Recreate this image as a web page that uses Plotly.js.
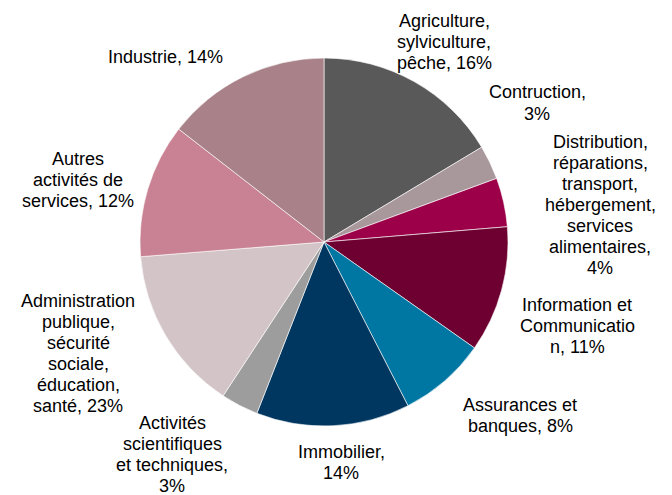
<!DOCTYPE html>
<html>
<head>
<meta charset="utf-8">
<script src="https://cdn.plot.ly/plotly-3.0.1.min.js"></script>
<style>html,body{margin:0;padding:0;background:#fff;}#chart{width:672px;height:495px;}</style>
</head>
<body>
<div id="chart"></div>
<script>
// Data
var categories = [
  "Agriculture, sylviculture, pêche",
  "Contruction",
  "Distribution, réparations, transport, hébergement, services alimentaires",
  "Information et Communication",
  "Assurances et banques",
  "Immobilier",
  "Activités scientifiques et techniques",
  "Administration publique, sécurité sociale, éducation, santé",
  "Autres activités de services",
  "Industrie"
];
var shares = [16.4, 3.0, 4.3, 11.1, 7.7, 13.5, 3.3, 14.5, 11.8, 14.5];
var labelTexts = [
  "Agriculture,<br>sylviculture,<br>pêche, 16%",
  "Contruction,<br>3%",
  "Distribution,<br>réparations,<br>transport,<br>hébergement,<br>services<br>alimentaires,<br>4%",
  "Information et<br>Communicatio<br>n, 11%",
  "Assurances et<br>banques, 8%",
  "Immobilier,<br>14%",
  "Activités<br>scientifiques<br>et techniques,<br>3%",
  "Administration<br>publique,<br>sécurité<br>sociale,<br>éducation,<br>santé, 23%",
  "Autres<br>activités de<br>services, 12%",
  "Industrie, 14%"
];
var colors = ["#595959", "#A8979B", "#9B0048", "#6D0030", "#0076A3", "#003760", "#9D9D9D", "#D3C4C7", "#C88293", "#A88288"];

// Label anchor positions in pixels (layout only)
var labelPx = [
  [444, 42], [537, 103], [600, 205], [577, 326], [520, 415],
  [341, 462], [172, 454], [78, 353], [78, 180], [165, 57]
];
var lineGap = 21;
var fontSize = 18;

var W = 672, H = 495;
var cx = 324, cy = 242, r = 184;

var annotations = [];
labelTexts.forEach(function (t, i) {
  var lines = t.split("<br>");
  var n = lines.length;
  lines.forEach(function (ln, k) {
    var py = labelPx[i][1] + (k - (n - 1) / 2) * lineGap;
    annotations.push({
      text: ln,
      x: labelPx[i][0] / W,
      y: 1 - py / H,
      xref: "paper", yref: "paper",
      xanchor: "center", yanchor: "middle",
      align: "center",
      showarrow: false,
      font: {family: "Liberation Sans, Arial, sans-serif", size: fontSize, color: "#000000"}
    });
  });
});

var trace = {
  type: "pie",
  labels: categories,
  values: shares,
  sort: false,
  direction: "clockwise",
  rotation: 0,
  textinfo: "none",
  hoverinfo: "label+percent",
  marker: {colors: colors, line: {color: "#ffffff", width: 0.6}},
  domain: {
    x: [(cx - r) / W, (cx + r) / W],
    y: [(H - cy - r) / H, (H - cy + r) / H]
  },
  showlegend: false
};

var layout = {
  width: W, height: H,
  margin: {l: 0, r: 0, t: 0, b: 0},
  paper_bgcolor: "#ffffff",
  plot_bgcolor: "#ffffff",
  showlegend: false,
  annotations: annotations
};

Plotly.newPlot("chart", [trace], layout, {displayModeBar: false, staticPlot: true});
</script>
</body>
</html>
